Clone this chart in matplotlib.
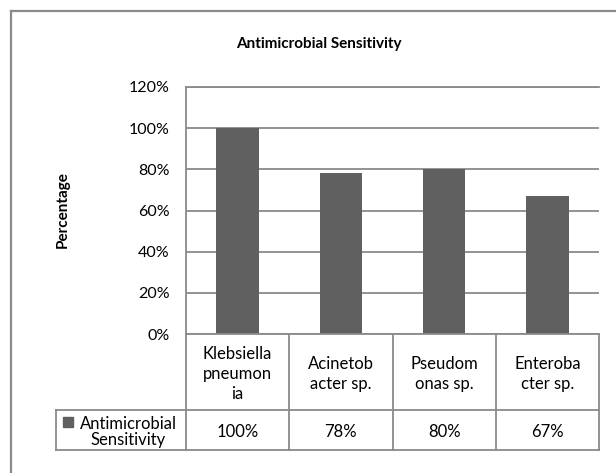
import matplotlib.pyplot as plt
from matplotlib.lines import Line2D
from matplotlib.patches import Rectangle

plt.rcParams['font.family'] = ['Lato', 'DejaVu Sans']

# Data
categories = ['Klebsiella\npneumon\nia', 'Acinetob\nacter sp.', 'Pseudom\nonas sp.', 'Enteroba\ncter sp.']
values = [100, 78, 80, 67]
series_name = 'Antimicrobial\nSensitivity'
yticks = [0, 20, 40, 60, 80, 100, 120]

bar_color = '#606060'
line_color = '#8a8a8a'

W, H = 616, 473
fig = plt.figure(figsize=(W / 100, H / 100), dpi=100)

def fx(px):
    return px / W

def fy(py):
    return 1 - py / H

# outer chart border (top and left edges visible)
fig.add_artist(Line2D([fx(11), fx(11)], [0, fy(11)], color=line_color, lw=1.6))
fig.add_artist(Line2D([fx(11), 1], [fy(11), fy(11)], color=line_color, lw=1.6))

fig.text(fx(319), fy(44), 'Antimicrobial Sensitivity', ha='center', va='center',
         fontsize=11, fontweight='bold')

# main plot
left, right, top, bottom = 186, 599, 87, 334
ax = fig.add_axes([fx(left), fy(bottom), (right - left) / W, (bottom - top) / H])
x = range(len(values))
ax.bar(x, values, width=0.41, color=bar_color, zorder=3)
ax.set_xlim(-0.5, len(values) - 0.5)
ax.set_ylim(0, 120)
ax.set_yticks(yticks)
ax.set_yticklabels([f'{t}%' for t in yticks], fontsize=11.5)
ax.set_xticks([])
ax.tick_params(axis='y', length=0, pad=12)
ax.grid(axis='y', color=line_color, lw=1.3, zorder=0)
for s in ['right', 'bottom']:
    ax.spines[s].set_visible(False)
for s in ['left', 'top']:
    ax.spines[s].set_color(line_color)
    ax.spines[s].set_linewidth(1.3)
fig.text(fx(63), fy(210), 'Percentage', rotation=90, ha='center', va='center',
         fontsize=11, fontweight='bold')

# data table below the plot
unit = (right - left) / len(values)
leg_left = 56
t_bottom, row_line = 450, 410
tb = fig.add_axes([fx(leg_left), fy(t_bottom), (right - leg_left) / W, (t_bottom - bottom) / H])
x0 = -0.5 - (left - leg_left) / unit
tb.set_xlim(x0, len(values) - 0.5)
tb.set_ylim(t_bottom, bottom)
tb.axis('off')
kw = dict(color=line_color, lw=1.3, clip_on=False)
# horizontal lines
tb.plot([-0.5, len(values) - 0.5], [bottom, bottom], **kw)
tb.plot([x0, len(values) - 0.5], [row_line, row_line], **kw)
tb.plot([x0, len(values) - 0.5], [t_bottom, t_bottom], **kw)
# vertical lines
for xv in range(len(values) + 1):
    tb.plot([xv - 0.5, xv - 0.5], [bottom, t_bottom], **kw)
tb.plot([x0, x0], [row_line, t_bottom], **kw)

for i, (c, v) in enumerate(zip(categories, values)):
    tb.text(i, 374, c, ha='center', va='center', fontsize=12, linespacing=1.3)
    tb.text(i, 432, f'{v}%', ha='center', va='center', fontsize=12)

# legend key + series name
tb.add_patch(Rectangle((x0 + 7 / unit, 417), 10 / unit, 10, color=bar_color, clip_on=False))
tb.text(x0 + 72 / unit, 432, series_name, ha='center', va='center', fontsize=12,
        linespacing=1.05, multialignment='center')

fig.savefig('out.png', dpi=100)
